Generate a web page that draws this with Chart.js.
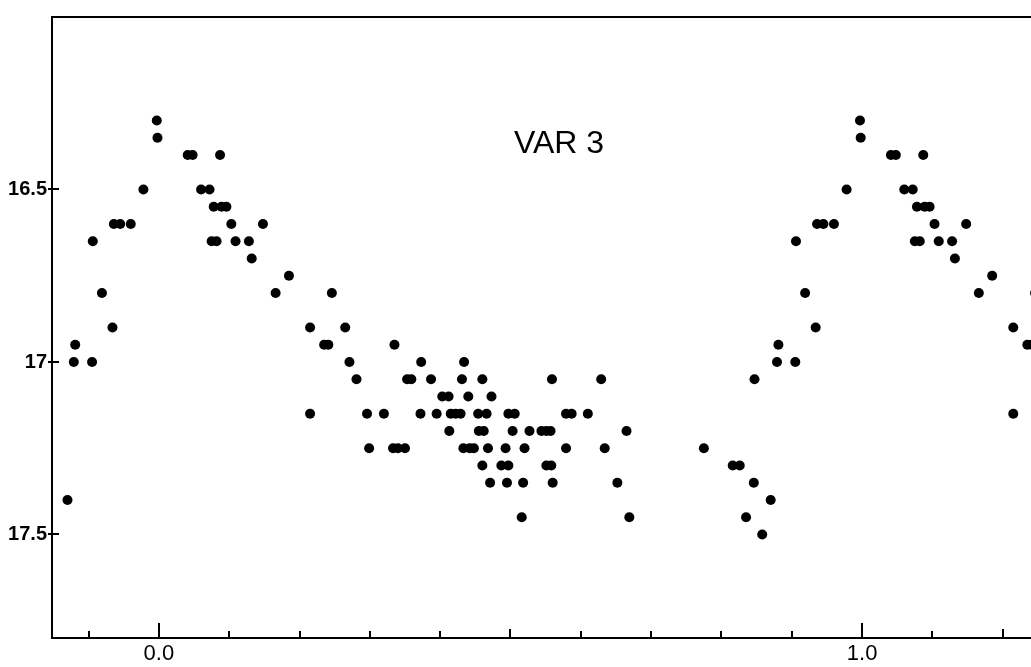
<!DOCTYPE html>
<html>
<head>
<meta charset="utf-8">
<title>VAR 3</title>
<script src="https://cdn.jsdelivr.net/npm/chart.js@4/dist/chart.umd.min.js"></script>
<style>
    html, body { margin: 0; padding: 0; background: #fff; overflow: hidden; width: 1031px; height: 667px; }
    #chart { display: block; }
</style>
</head>
<body>
<!-- the plot runs past the right edge of the page, as in the original figure -->
<canvas id="chart" width="1045" height="667"></canvas>
<script>
// LIGHT CURVE DATA (phase 0..1 and magnitude, one row per magnitude level)

const phase = [
    0.997,
    0.998,
    0.041, 0.048, 0.087,
    0.978, 0.060, 0.072,
    0.078, 0.089, 0.096,
    0.936, 0.945, 0.960, 0.103, 0.148,
    0.906, 0.075, 0.082, 0.109, 0.128,
    0.132,
    0.185,
    0.919, 0.166, 0.246,
    0.934, 0.215, 0.265,
    0.881, 0.235, 0.241, 0.335,
    0.879, 0.905, 0.271, 0.373, 0.434,
    0.281, 0.353, 0.359, 0.387, 0.431, 0.460, 0.559, 0.629, 0.847,
    0.403, 0.412, 0.440, 0.473,
    0.215, 0.296, 0.320, 0.372, 0.395, 0.415, 0.422, 0.429, 0.454, 0.466, 0.497, 0.506, 0.579, 0.587, 0.610,
    0.413, 0.455, 0.462, 0.503, 0.527, 0.544, 0.551, 0.557, 0.665,
    0.299, 0.333, 0.340, 0.350, 0.433, 0.442, 0.448, 0.468, 0.493, 0.520, 0.579, 0.634, 0.775,
    0.460, 0.487, 0.497, 0.551, 0.558, 0.816, 0.826,
    0.471, 0.495, 0.518, 0.560, 0.652, 0.846,
    0.870,
    0.516, 0.669, 0.835,
    0.858
];

const magnitude = [
    16.30,
    16.35,
    16.40, 16.40, 16.40,
    16.50, 16.50, 16.50,
    16.55, 16.55, 16.55,
    16.60, 16.60, 16.60, 16.60, 16.60,
    16.65, 16.65, 16.65, 16.65, 16.65,
    16.70,
    16.75,
    16.80, 16.80, 16.80,
    16.90, 16.90, 16.90,
    16.95, 16.95, 16.95, 16.95,
    17.00, 17.00, 17.00, 17.00, 17.00,
    17.05, 17.05, 17.05, 17.05, 17.05, 17.05, 17.05, 17.05, 17.05,
    17.10, 17.10, 17.10, 17.10,
    17.15, 17.15, 17.15, 17.15, 17.15, 17.15, 17.15, 17.15, 17.15, 17.15, 17.15, 17.15, 17.15, 17.15, 17.15,
    17.20, 17.20, 17.20, 17.20, 17.20, 17.20, 17.20, 17.20, 17.20,
    17.25, 17.25, 17.25, 17.25, 17.25, 17.25, 17.25, 17.25, 17.25, 17.25, 17.25, 17.25, 17.25,
    17.30, 17.30, 17.30, 17.30, 17.30, 17.30, 17.30,
    17.35, 17.35, 17.35, 17.35, 17.35, 17.35,
    17.40,
    17.45, 17.45, 17.45,
    17.50
];

// AXES

const xRange = [-0.152, 1.253];
const yRange = [16.0, 17.8];

const xLabelValues = [0, 1];
const xLabelText = ["0.0", "1.0"];
const xMajorTicks = [0, 1];
const xMidTicks = [0.5, 1.2];
const xMinorTicks = [-0.1, 0.1, 0.2, 0.3, 0.4, 0.6, 0.7, 0.8, 0.9, 1.1];

const yTickValues = [16.5, 17, 17.5];
const yTickLabels = ["16.5", "17", "17.5"];

// phases above this are drawn again one cycle earlier
const leftCopyFrom = 0.865;

const starName = "VAR 3";
const starNameAt = { x: 0.569, y: 16.37 };


function buildPoints() {
    let points = [];

    phase.forEach((p, i) => {
        points.push({ x: p, y: magnitude[i] });

        if (p >= leftCopyFrom) {
            points.push({ x: p - 1, y: magnitude[i] });
        }
        if (p + 1 <= xRange[1] + 0.02) {
            points.push({ x: p + 1, y: magnitude[i] });
        }
    });

    return points;
}


// FRAME, INWARD TICK MARKS AND STAR NAME

const axisMarks = {
    id: "axisMarks",
    afterDatasetsDraw(chart) {
        const { ctx, chartArea, scales } = chart;
        const bottom = chartArea.bottom;
        const left = chartArea.left;

        ctx.save();
        ctx.strokeStyle = "#000";
        ctx.lineWidth = 2;
        ctx.beginPath();

        ctx.moveTo(left - 1, chartArea.top);
        ctx.lineTo(chartArea.right, chartArea.top);

        xMajorTicks.forEach(v => {
            let px = Math.round(scales.x.getPixelForValue(v));
            ctx.moveTo(px, bottom);
            ctx.lineTo(px, bottom - 15);
        });
        xMidTicks.forEach(v => {
            let px = Math.round(scales.x.getPixelForValue(v));
            ctx.moveTo(px, bottom);
            ctx.lineTo(px, bottom - 9);
        });
        xMinorTicks.forEach(v => {
            let px = Math.round(scales.x.getPixelForValue(v));
            ctx.moveTo(px, bottom);
            ctx.lineTo(px, bottom - 7);
        });
        yTickValues.forEach(v => {
            let py = Math.round(scales.y.getPixelForValue(v));
            ctx.moveTo(left - 4, py);
            ctx.lineTo(left + 7, py);
        });
        ctx.stroke();

        ctx.fillStyle = "#000";
        ctx.font = '32px "Liberation Sans"';
        ctx.textAlign = "center";
        ctx.textBaseline = "middle";
        ctx.fillText(starName,
            scales.x.getPixelForValue(starNameAt.x),
            scales.y.getPixelForValue(starNameAt.y));
        ctx.restore();
    }
};


function renderChart() {
    const canvas = document.getElementById("chart");

    if (!canvas) {
        console.log("Chart canvas not found");
        return;
    }

    new Chart(canvas, {
        type: "scatter",
        data: {
            datasets: [{
                label: starName,
                data: buildPoints(),
                backgroundColor: "#000",
                borderWidth: 0,
                pointRadius: 5,
                pointHoverRadius: 5
            }]
        },
        options: {
            responsive: false,
            animation: false,
            layout: {
                padding: { top: 13, left: 0, right: 0, bottom: 0 }
            },
            plugins: {
                legend: { display: false },
                tooltip: { enabled: false }
            },
            scales: {
                x: {
                    type: "linear",
                    min: xRange[0],
                    max: xRange[1],
                    afterFit: scale => { scale.height = 29; },
                    afterBuildTicks: scale => {
                        scale.ticks = xLabelValues.map(v => ({ value: v }));
                    },
                    ticks: {
                        padding: 3,
                        color: "#000",
                        font: { family: "Liberation Sans", size: 22 },
                        callback: value => xLabelText[xLabelValues.indexOf(value)]
                    },
                    grid: { display: false, drawTicks: false },
                    border: { display: true, color: "#000", width: 2 }
                },
                y: {
                    type: "linear",
                    reverse: true,
                    min: yRange[0],
                    max: yRange[1],
                    afterFit: scale => { scale.width = 52; },
                    afterBuildTicks: scale => {
                        scale.ticks = yTickValues.map(v => ({ value: v }));
                    },
                    ticks: {
                        padding: 5,
                        color: "#000",
                        font: { family: "Liberation Sans", size: 20, weight: "bold" },
                        callback: value => yTickLabels[yTickValues.indexOf(value)]
                    },
                    grid: { display: false, drawTicks: false },
                    border: { display: true, color: "#000", width: 2 }
                }
            }
        },
        plugins: [axisMarks]
    });
}

renderChart();
</script>
</body>
</html>
